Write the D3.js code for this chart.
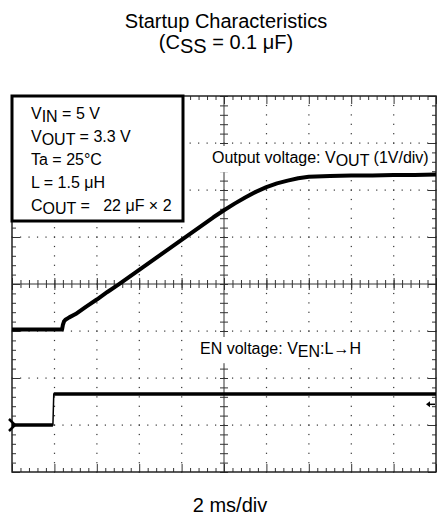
<!DOCTYPE html>
<html>
<head>
<meta charset="utf-8">
<script src="https://cdn.jsdelivr.net/npm/d3@7"></script>
<style>
  html, body { margin: 0; padding: 0; background: #fff; }
  svg { display: block; font-family: "Liberation Sans", Arial, sans-serif; }
  text { white-space: pre; }
</style>
</head>
<body>
<svg id="chart" width="437" height="523"></svg>
<script>
// ---- Scope settings ----
const timePerDiv = 2;        // ms/div
const hDivs = 10;
const vDivs = 8;
const voutVoltsPerDiv = 1;   // V/div
const enVoltsPerDiv = 5;     // V/div
const voutGroundDiv = -0.97; // channel ground position (div from centre)
const enGroundDiv = -3;
const enTriggerV = 2.2;

// ---- Output voltage trace (time in ms, volts) ----
const voutTime = [0, 1.0, 2.0, 2.36, 2.40, 2.45, 2.52, 2.7, 3.0, 3.5, 4.0, 4.5, 5.0, 5.5, 6.0, 6.5, 7.0, 7.5, 8.0, 8.5, 9.0, 9.5, 10.0, 10.5, 11.0, 11.5, 12.0, 12.5, 13.0, 13.5, 14.0, 15.0, 16.0, 17.0, 18.0, 19.0, 20.0];
const voutV    = [0, 0, 0, 0, 0.10, 0.17, 0.21, 0.26, 0.33, 0.49, 0.64, 0.80, 0.95, 1.11, 1.27, 1.43, 1.59, 1.75, 1.91, 2.07, 2.23, 2.39, 2.54, 2.68, 2.81, 2.93, 3.03, 3.11, 3.17, 3.22, 3.25, 3.27, 3.28, 3.28, 3.29, 3.29, 3.30];

// ---- EN trace (time in ms, volts) ----
const enTime = [0, 1.93, 1.97, 20];
const enV    = [0, 0, 3.3, 3.3];

// ---- Text ----
const titleLine1 = "Startup Characteristics";
const titleLine2 = [["(C"], ["SS", true], [" = 0.1 \u03bcF)"]];
const xAxisLabel = "2 ms/div";
const voutLabel = [["Output voltage: V"], ["OUT", true], [" (1V/div)"]];
const enLabel = [["EN voltage: V"], ["EN", true], [":L\u2192H"]];
const conditions = [
  [["V"], ["IN", true], [" = 5 V"]],
  [["V"], ["OUT", true], [" = 3.3 V"]],
  [["Ta = 25\u00b0C"]],
  [["L = 1.5 \u03bcH"]],
  [["C"], ["OUT", true], [" =   22 \u03bcF \u00d7 2"]]
];

// ---- Layout ----
const plot = { left: 12, right: 436, top: 96, bottom: 472 };
const svg = d3.select("#chart");

const x = d3.scaleLinear().domain([0, hDivs * timePerDiv]).range([plot.left, plot.right]);
const yDiv = d3.scaleLinear().domain([-vDivs / 2, vDivs / 2]).range([plot.bottom, plot.top]);
const yVout = v => yDiv(voutGroundDiv + v / voutVoltsPerDiv);
const yEn = v => yDiv(enGroundDiv + v / enVoltsPerDiv);

const xMajor = d3.range(0, hDivs * timePerDiv + 1e-9, timePerDiv);
const xMinor = d3.range(0, hDivs * 5 + 1).map(i => i * timePerDiv / 5);
const yMajor = d3.range(-vDivs / 2, vDivs / 2 + 1e-9, 1);
const yMinor = d3.range(0, vDivs * 5 + 1).map(i => -vDivs / 2 + i / 5);
const xCentre = hDivs * timePerDiv / 2;

// helper: write rich text with subscripts
function richText(sel, parts, size) {
  parts.forEach(([s, sub]) => {
    const t = sel.append("tspan").text(s);
    if (sub) t.attr("dy", size * 0.2);
    else if (sel.selectAll("tspan").size() > 1) t.attr("dy", -size * 0.2);
  });
}

// ---- Dotted graticule ----
const dots = svg.append("g").attr("fill", "#333");
xMajor.filter(t => t > 0 && t < hDivs * timePerDiv && t !== xCentre).forEach(t => {
  yMinor.forEach(d => {
    dots.append("rect").attr("x", x(t) - 0.5).attr("y", yDiv(d) - 0.5).attr("width", 1.2).attr("height", 1.2);
  });
});
yMajor.filter(d => d > -vDivs / 2 && d < vDivs / 2 && d !== 0).forEach(d => {
  xMinor.forEach(t => {
    dots.append("rect").attr("x", x(t) - 0.5).attr("y", yDiv(d) - 0.5).attr("width", 1.2).attr("height", 1.2);
  });
});

// ---- Tick marks with d3 axes ----
function tickAxis(axisFn, scale, values, size, transform) {
  const g = svg.append("g").attr("transform", transform)
    .call(axisFn(scale).tickValues(values).tickSize(size).tickFormat(""));
  g.select(".domain").remove();
  g.selectAll("line").attr("stroke", "#333").attr("stroke-width", 1);
  return g;
}
const xMinorOnly = xMinor.filter(t => !xMajor.some(m => Math.abs(m - t) < 1e-6));
const yMinorOnly = yMinor.filter(d => !yMajor.some(m => Math.abs(m - d) < 1e-6));

// border ticks (inward)
tickAxis(d3.axisBottom, x, xMinorOnly, 4, `translate(0,${plot.top})`);
tickAxis(d3.axisBottom, x, xMajor, 8, `translate(0,${plot.top})`);
tickAxis(d3.axisTop, x, xMinorOnly, 4, `translate(0,${plot.bottom})`);
tickAxis(d3.axisTop, x, xMajor, 8, `translate(0,${plot.bottom})`);
tickAxis(d3.axisRight, yDiv, yMinorOnly, 4, `translate(${plot.left},0)`);
tickAxis(d3.axisRight, yDiv, yMajor, 8, `translate(${plot.left},0)`);
tickAxis(d3.axisLeft, yDiv, yMinorOnly, 4, `translate(${plot.right},0)`);
tickAxis(d3.axisLeft, yDiv, yMajor, 8, `translate(${plot.right},0)`);

// centre axes with ticks both sides
tickAxis(d3.axisTop, x, xMinor, 4, `translate(0,${yDiv(0)})`);
tickAxis(d3.axisBottom, x, xMinor, 4, `translate(0,${yDiv(0)})`);
tickAxis(d3.axisTop, x, xMajor, 6, `translate(0,${yDiv(0)})`);
tickAxis(d3.axisBottom, x, xMajor, 6, `translate(0,${yDiv(0)})`);
tickAxis(d3.axisLeft, yDiv, yMinor, 4, `translate(${x(xCentre)},0)`);
tickAxis(d3.axisRight, yDiv, yMinor, 4, `translate(${x(xCentre)},0)`);
svg.append("line").attr("x1", plot.left).attr("x2", plot.right)
  .attr("y1", yDiv(0)).attr("y2", yDiv(0)).attr("stroke", "#333").attr("stroke-width", 1);
svg.append("line").attr("x1", x(xCentre)).attr("x2", x(xCentre))
  .attr("y1", plot.top).attr("y2", plot.bottom).attr("stroke", "#333").attr("stroke-width", 1);

// ---- Trace labels (on a white backing that hides the graticule) ----
function label(parts, lx, ly) {
  const g = svg.append("g");
  const bg = g.append("rect").attr("fill", "#fff");
  const t = g.append("text").attr("x", lx).attr("y", ly).attr("font-size", 16).attr("fill", "#000");
  richText(t, parts, 16);
  const bb = t.node().getBBox();
  bg.attr("x", bb.x - 3).attr("y", bb.y - 3).attr("width", bb.width + 6).attr("height", bb.height + 6);
}
label(voutLabel, 212, 163);
label(enLabel, 200, 354);

// frame
svg.append("rect").attr("x", plot.left).attr("y", plot.top)
  .attr("width", plot.right - plot.left).attr("height", plot.bottom - plot.top)
  .attr("fill", "none").attr("stroke", "#222").attr("stroke-width", 1.5);

// ---- Traces ----
const voutLine = d3.line().x((d, i) => x(voutTime[i])).y(d => yVout(d));
svg.append("path").datum(voutV).attr("d", voutLine)
  .attr("fill", "none").attr("stroke", "#000").attr("stroke-width", 4)
  .attr("stroke-linejoin", "round");

const enLine = d3.line().x((d, i) => x(enTime[i])).y(d => yEn(d));
svg.append("path").datum(enV).attr("d", enLine)
  .attr("fill", "none").attr("stroke", "#000").attr("stroke-width", 1.5);
// flat levels drawn heavier
for (let i = 0; i < enV.length - 1; i++) {
  if (enV[i] === enV[i + 1]) {
    svg.append("line").attr("x1", x(enTime[i])).attr("x2", x(enTime[i + 1]))
      .attr("y1", yEn(enV[i])).attr("y2", yEn(enV[i + 1]))
      .attr("stroke", "#000").attr("stroke-width", 3.5);
  }
}

// ground marker for EN and trigger level marker
const gy = yEn(0);
svg.append("path")
  .attr("d", `M${plot.left - 3},${gy - 6} L${plot.left + 3},${gy} L${plot.left - 3},${gy + 6}`)
  .attr("fill", "none").attr("stroke", "#000").attr("stroke-width", 2.5);
const ty = yEn(enTriggerV);
svg.append("path")
  .attr("d", `M${plot.right - 1},${ty} L${plot.right - 8},${ty}`)
  .attr("stroke", "#000").attr("stroke-width", 1.5);
svg.append("path")
  .attr("d", `M${plot.right - 10},${ty} L${plot.right - 6},${ty - 3} L${plot.right - 6},${ty + 3} Z`)
  .attr("fill", "#000");

// ---- Conditions box ----
svg.append("rect").attr("x", plot.left).attr("y", plot.top)
  .attr("width", 171).attr("height", 125)
  .attr("fill", "#fff").attr("stroke", "#000").attr("stroke-width", 3);
conditions.forEach((parts, i) => {
  const t = svg.append("text").attr("x", 31).attr("y", 119 + i * 23)
    .attr("font-size", 16).attr("fill", "#000");
  richText(t, parts, 16);
});

// ---- Title and axis caption ----
svg.append("text").attr("x", 226).attr("y", 28).attr("text-anchor", "middle")
  .attr("font-size", 20).attr("fill", "#000").text(titleLine1);
const t2 = svg.append("text").attr("x", 226).attr("y", 49).attr("text-anchor", "middle")
  .attr("font-size", 20).attr("fill", "#000");
richText(t2, titleLine2, 20);
svg.append("text").attr("x", 230).attr("y", 512).attr("text-anchor", "middle")
  .attr("font-size", 20).attr("fill", "#000").text(xAxisLabel);
</script>
</body>
</html>
